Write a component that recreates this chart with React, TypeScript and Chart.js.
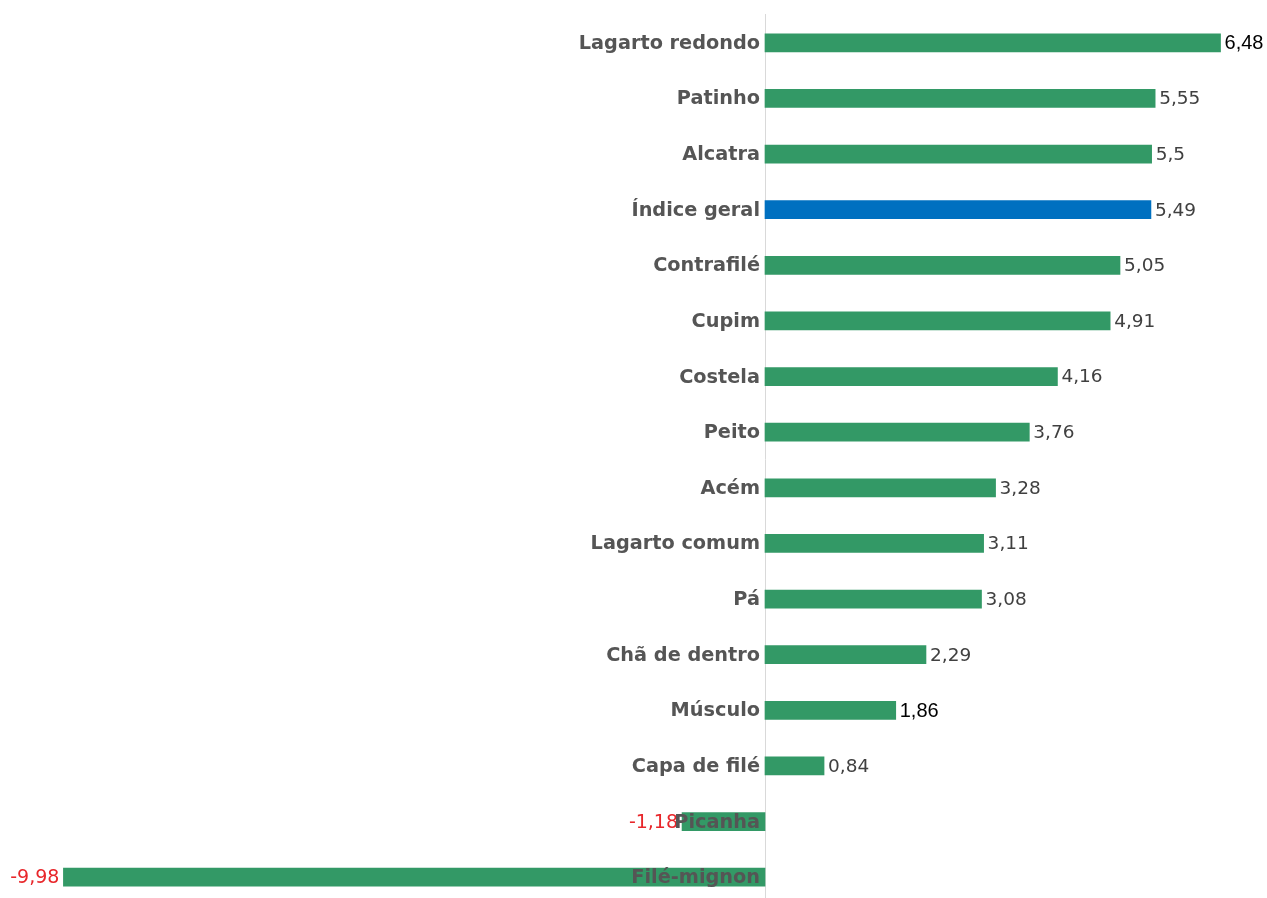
import React, { useEffect, useRef } from "react";
import { Chart, registerables } from "chart.js";

Chart.register(...registerables);

const categories = [
  "Lagarto redondo",
  "Patinho",
  "Alcatra",
  "Índice geral",
  "Contrafilé",
  "Cupim",
  "Costela",
  "Peito",
  "Acém",
  "Lagarto comum",
  "Pá",
  "Chã de dentro",
  "Músculo",
  "Capa de filé",
  "Picanha",
  "Filé-mignon",
];

const values = [6.48, 5.55, 5.5, 5.49, 5.05, 4.91, 4.16, 3.76, 3.28, 3.11, 3.08, 2.29, 1.86, 0.84, -1.18, -9.98];

const valueLabels = ["6,48", "5,55", "5,5", "5,49", "5,05", "4,91", "4,16", "3,76", "3,28", "3,11", "3,08", "2,29", "1,86", "0,84", "-1,18", "-9,98"];

const highlightCategory = "Índice geral";
const blackLabelCategories = ["Lagarto redondo", "Músculo"];

const GREEN = "#339966";
const BLUE = "#0070C0";

const labelPlugin = {
  id: "customLabels",
  beforeDatasetsDraw(chart: any) {
    const ctx = chart.ctx;
    const xScale = chart.scales.x;
    const x0 = xScale.getPixelForValue(0);
    ctx.save();
    ctx.strokeStyle = "#d9d9d9";
    ctx.lineWidth = 1;
    ctx.beginPath();
    ctx.moveTo(Math.round(x0) + 0.5, 14);
    ctx.lineTo(Math.round(x0) + 0.5, chart.height);
    ctx.stroke();
    ctx.restore();
  },
  afterDatasetsDraw(chart: any) {
    const ctx = chart.ctx;
    const meta = chart.getDatasetMeta(0);
    const xScale = chart.scales.x;
    const x0 = xScale.getPixelForValue(0);
    ctx.save();
    ctx.textBaseline = "middle";
    meta.data.forEach((bar: any, i: number) => {
      const v = values[i];
      const y = bar.y;
      const isBlack = blackLabelCategories.includes(categories[i]);
      if (v >= 0) {
        ctx.textAlign = "left";
        if (isBlack) {
          ctx.font = "20px 'Liberation Sans', Arial, sans-serif";
          ctx.fillStyle = "#000000";
        } else {
          ctx.font = "18.5px 'DejaVu Sans', sans-serif";
          ctx.fillStyle = "#404040";
        }
        ctx.fillText(valueLabels[i], bar.x + 4, y + 1);
      } else {
        ctx.textAlign = "right";
        ctx.font = "19px 'DejaVu Sans', sans-serif";
        ctx.fillStyle = "#e8262a";
        ctx.fillText(valueLabels[i], bar.x - 4, y + 1);
      }
      ctx.textAlign = "right";
      ctx.font = "bold 19.3px 'DejaVu Sans', sans-serif";
      ctx.fillStyle = "#555555";
      ctx.fillText(categories[i], x0 - 5, y + 1);
    });
    ctx.restore();
  },
};

export default function App() {
  const canvasRef = useRef<HTMLCanvasElement | null>(null);

  useEffect(() => {
    if (!canvasRef.current) return;
    const chart = new Chart(canvasRef.current, {
      type: "bar",
      data: {
        labels: categories,
        datasets: [
          {
            data: values,
            backgroundColor: categories.map((c) => (c === highlightCategory ? BLUE : GREEN)),
            barThickness: 18,
            borderWidth: 0,
          },
        ],
      },
      options: {
        indexAxis: "y",
        animation: false,
        responsive: false,
        maintainAspectRatio: false,
        layout: { padding: { top: 15, bottom: 0, left: 0, right: 0 } },
        plugins: {
          legend: { display: false },
          tooltip: { enabled: false },
        },
        scales: {
          x: {
            display: false,
            min: -10.882,
            max: 7.141,
          },
          y: {
            display: false,
            offset: true,
          },
        },
      },
      plugins: [labelPlugin],
    });
    return () => chart.destroy();
  }, []);

  return (
    <div style={{ position: "fixed", left: 0, top: 0, width: 1267, height: 905, background: "#ffffff" }}>
      <canvas ref={canvasRef} width={1267} height={905} style={{ width: 1267, height: 905, display: "block" }} />
    </div>
  );
}
